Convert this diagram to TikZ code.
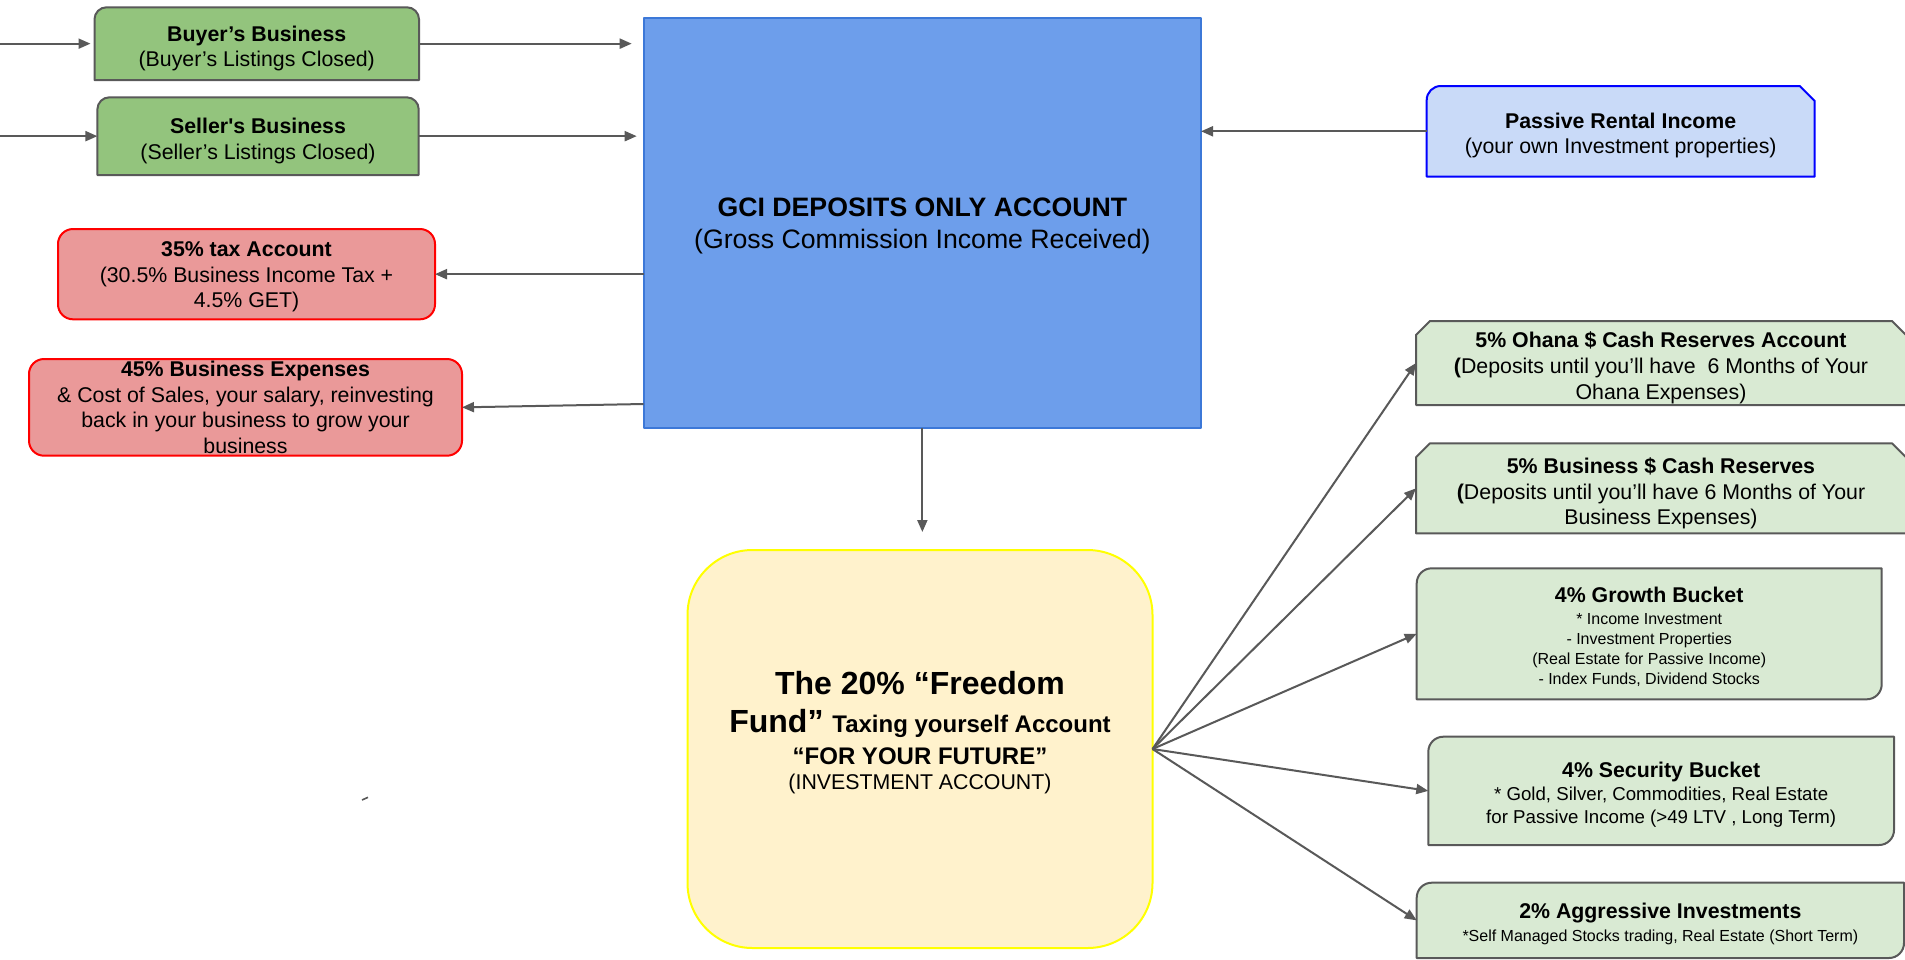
\documentclass[tikz,border=0pt]{standalone}
\usepackage{fontspec}
\setmainfont{Liberation Sans}
\usetikzlibrary{arrows.meta,calc}

\definecolor{linegray}{HTML}{595959}
\definecolor{greenfill}{HTML}{93C47D}
\definecolor{mintfill}{HTML}{D9EAD3}
\definecolor{redfill}{HTML}{EA9999}
\definecolor{redline}{HTML}{FF0000}
\definecolor{gcifill}{HTML}{6D9EEB}
\definecolor{gciline}{HTML}{3C78D8}
\definecolor{rentfill}{HTML}{C9DAF8}
\definecolor{rentline}{HTML}{0000FF}
\definecolor{fundfill}{HTML}{FFF2CC}
\definecolor{fundline}{HTML}{FFFF00}

% invisible props that set the height of a first line / depth of a last line
\newcommand\firstline[1]{\rule{0pt}{#1}}
\newcommand\lastline[1]{\rule[-#1]{0pt}{1pt}}

\tikzset{
  base/.style={inner sep=0pt, outer sep=0pt, align=flush center,
               font=\fontsize{21.33}{25.6}\selectfont},
  outline/.style={line width=2pt, line join=round},
  greenbox/.style={outline, draw=linegray, fill=greenfill},
  mintbox/.style={outline, draw=linegray, fill=mintfill},
  redbox/.style={base, outline, draw=redline, fill=redfill, rounded corners=15pt},
  arr/.style={draw=linegray, line width=2pt,
              -{Triangle[length=12pt,width=10pt]}},
}

\begin{document}
\begin{tikzpicture}[x=1pt,y=-1pt]
\useasboundingbox (0,0) rectangle (1905,959);
\fill[white] (0,0) rectangle (1905,959);
\clip (0,0) rectangle (1905,959);

% ---------- outlines of boxes with mixed corners ----------
% Buyer's business (rounded top corners)
\path[greenbox] (94.5,80) -- (94.5,19.3) .. controls (94.5,12.7) and (99.9,7.3) .. (106.5,7.3)
  -- (407,7.3) .. controls (413.6,7.3) and (419,12.7) .. (419,19.3) -- (419,80) -- cycle;
% Seller's business
\path[greenbox] (97.4,175) -- (97.4,109.3) .. controls (97.4,102.7) and (102.8,97.3) .. (109.4,97.3)
  -- (406.7,97.3) .. controls (413.3,97.3) and (418.7,102.7) .. (418.7,109.3) -- (418.7,175) -- cycle;
% Passive rental income (rounded top-left, snipped top-right)
\path[outline, draw=rentline, fill=rentfill] (1426.7,176.7) -- (1426.7,100)
  .. controls (1426.7,92.3) and (1433,86) .. (1440.7,86)
  -- (1799.7,86) -- (1814.7,101) -- (1814.7,176.7) -- cycle;
% Cash reserve accounts (snipped top corners)
\path[mintbox] (1416,405) -- (1416,335) -- (1430,321) -- (1892,321) -- (1906,335) -- (1906,405) -- cycle;
\path[mintbox] (1416,533.3) -- (1416,457.3) -- (1430,443.3) -- (1892,443.3) -- (1906,457.3) -- (1906,533.3) -- cycle;
% Buckets (rounded top-left and bottom-right)
\path[mintbox] (1416.7,699.3) -- (1416.7,583.3) .. controls (1416.7,575) and (1423.4,568.3) .. (1431.7,568.3)
  -- (1881.7,568.3) -- (1881.7,684.3) .. controls (1881.7,692.6) and (1875,699.3) .. (1866.7,699.3) -- cycle;
\path[mintbox] (1428.3,845) -- (1428.3,751.7) .. controls (1428.3,743.4) and (1435,736.7) .. (1443.3,736.7)
  -- (1894,736.7) -- (1894,830) .. controls (1894,838.3) and (1887.3,845) .. (1879,845) -- cycle;
\path[mintbox] (1416.7,958) -- (1416.7,897.7) .. controls (1416.7,889.4) and (1423.4,882.7) .. (1431.7,882.7)
  -- (1904,882.7) -- (1904,943) .. controls (1904,951.3) and (1897.3,958) .. (1889,958) -- cycle;

% ---------- nodes ----------
\node[base, minimum width=324.5pt, minimum height=72.7pt] (buyer) at (256.75,43.65)
  {\firstline{25.5pt}\textbf{Buyer’s Business}\\(Buyer’s Listings Closed)};
\node[base, minimum width=321.3pt, minimum height=77.7pt] (seller) at (258.05,136.15)
  {\firstline{25.5pt}\textbf{Seller\textquotesingle s Business}\\(Seller’s Listings Closed)};

\node[base, outline, draw=gciline, fill=gcifill, minimum width=557.3pt, minimum height=409.2pt,
      font=\fontsize{26.67}{32}\selectfont] (gci) at (922.35,222.9)
  {\firstline{25.5pt}\textbf{GCI DEPOSITS ONLY ACCOUNT}\\(Gross Commission Income Received)};

\node[redbox, minimum width=377pt, minimum height=90.3pt] (tax) at (246.5,274.15)
  {\firstline{20.5pt}\textbf{35\% tax Account}\\(30.5\% Business Income Tax +\\4.5\% GET)};
\node[redbox, minimum width=433pt, minimum height=96.7pt] (exp) at (245.5,407.35)
  {\textbf{45\% Business Expenses}\\\& Cost of Sales, your salary, reinvesting\\back in your business to grow your\\business};

\node[base, outline, draw=fundline, fill=fundfill, rounded corners=65pt,
      minimum width=465pt, minimum height=398pt, text width=440pt] (fund) at (920,749)
  {{\fontsize{32}{38}\selectfont\bfseries The 20\% “Freedom\par}
   {\fontsize{32}{37.6}\selectfont\bfseries Fund” {\fontsize{24}{37.6}\selectfont Taxing yourself Account}\par}
   {\fontsize{24}{31.7}\selectfont\bfseries “FOR YOUR FUTURE”\par}
   {\fontsize{21.33}{25}\selectfont (INVESTMENT ACCOUNT)\lastline{37pt}\par}};

\node[base, minimum width=388pt, minimum height=90.7pt] (rent) at (1620.7,131.3)
  {\firstline{23.5pt}\textbf{Passive Rental Income}\\(your own Investment properties)};

\node[base, minimum width=490pt, minimum height=84pt] (ohana) at (1661,363)
  {\firstline{25.5pt}\textbf{5\% Ohana \$ Cash Reserves Account}\\\textbf{(}Deposits until you’ll have\ \ 6 Months of Your\\Ohana Expenses)};
\node[base, minimum width=490pt, minimum height=90pt] (bizres) at (1661,488.3)
  {\firstline{26.5pt}\textbf{5\% Business \$ Cash Reserves}\\\textbf{(}Deposits until you’ll have 6 Months of Your\\Business Expenses)};

\node[base, minimum width=465pt, minimum height=131pt, text width=440pt] (growth) at (1649.2,633.8)
  {{\fontsize{21.33}{25.6}\selectfont\bfseries\firstline{20.5pt}4\% Growth Bucket\par}
   {\fontsize{16}{22}\selectfont * Income Investment\par}
   {\fontsize{16}{20}\selectfont - Investment Properties\par (Real Estate for Passive Income)\par - Index Funds, Dividend Stocks\par}};
\node[base, minimum width=465.7pt, minimum height=108.3pt, text width=440pt] (security) at (1661.15,790.85)
  {{\fontsize{21.33}{25.6}\selectfont\bfseries\firstline{22.5pt}4\% Security Bucket\par}
   {\fontsize{18.67}{23}\selectfont * Gold, Silver, Commodities, Real Estate\par for Passive Income (>49 LTV , Long Term)\par}};
\node[base, minimum width=487.3pt, minimum height=75.3pt, text width=470pt] (aggr) at (1660.35,920.35)
  {{\fontsize{21.33}{25.6}\selectfont\bfseries\firstline{23.5pt}2\% Aggressive Investments\par}
   {\fontsize{16}{23}\selectfont *Self Managed Stocks trading, Real Estate (Short Term)\par}};

% ---------- connectors ----------
\coordinate (buyerSrc) at (0,43.65);
\coordinate (sellerSrc) at (0,136.15);
\draw[arr] (buyerSrc) -- ($(buyer.west)+(-4,0)$);
\draw[arr] (sellerSrc) -- (seller.west);
\draw[arr] (buyer.east) -- ($(gci.west |- buyer.east)+(-12,0)$);
\draw[arr] (seller.east) -- ($(gci.west |- seller.east)+(-7,0)$);
\draw[arr] (rent.west) -- (gci.east |- rent.west);
\draw[arr] (gci.west |- tax.east) -- (tax.east);
\draw[arr] ($(gci.west)+(0,181.1)$) -- (exp.east);
\draw[arr] (gci.south) -- ($(gci.south |- fund.north)+(0,-18)$);

\draw[arr] (fund.east) -- (ohana.west);
\draw[arr] (fund.east) -- (bizres.west);
\draw[arr] (fund.east) -- (growth.west);
\draw[arr] (fund.east) -- (security.west);
\draw[arr] (fund.east) -- (aggr.west);

% small stray stroke
\coordinate (dashA) at (362,800);
\coordinate (dashB) at (368,797.3);
\draw[linegray, line width=1.6pt] (dashA) -- (dashB);
\end{tikzpicture}
\end{document}
